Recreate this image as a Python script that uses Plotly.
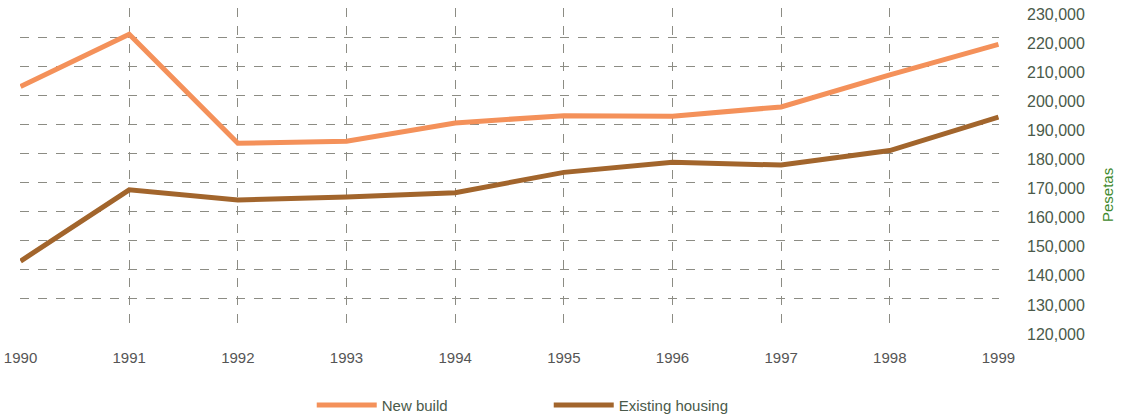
import plotly.graph_objects as go

years = [1990, 1991, 1992, 1993, 1994, 1995, 1996, 1997, 1998, 1999]
new_build = [203000, 221000, 183500, 184200, 190500, 193000, 192800, 196000, 207000, 217500]
existing_housing = [143000, 167500, 164000, 165000, 166500, 173500, 177000, 176000, 181000, 192500]

label_ticks = list(range(120000, 230001, 10000))

fig = go.Figure()
fig.add_trace(go.Scatter(x=years, y=new_build, name="New build", mode="lines",
                         line=dict(color="#f4915a", width=5)))
fig.add_trace(go.Scatter(x=years, y=existing_housing, name="Existing housing", mode="lines",
                         line=dict(color="#a2652c", width=5)))

fig.update_layout(
    width=1122, height=417,
    margin=dict(l=20, r=123, t=8, b=89, autoexpand=False),
    paper_bgcolor="white", plot_bgcolor="white",
    font=dict(family="Liberation Sans, Arial, sans-serif", size=15, color="#555555"),
    showlegend=True,
    legend=dict(orientation="h", x=0.298, xanchor="left", y=-0.19, yanchor="top",
                font=dict(size=15, color="#4a5a4a"), itemwidth=60,
                entrywidthmode="pixels", entrywidth=162),
    xaxis=dict(range=[1989.995, 1999.005], tickvals=years, showgrid=True, griddash="9px,9px",
               gridcolor="#8c8c84", gridwidth=1, zeroline=False, showline=False,
               ticks="", ticklabelstandoff=19, ticklabeloverflow="allow", automargin=False,
               tickfont=dict(color="#555555", size=15)),
    yaxis=dict(range=[120000, 230000], side="right", tickvals=label_ticks,
               tickformat=",d", showgrid=True, griddash="9px,9px",
               gridcolor="#8c8c84", gridwidth=1, zeroline=False, showline=False,
               ticks="", ticklabelstandoff=27, ticklabelshift=6, ticklabeloverflow="allow",
               automargin=False, tickfont=dict(color="#4a5a4a", size=16)),
    annotations=[dict(text="Pesetas", textangle=-90, xref="paper", yref="paper",
                      x=1, y=0.5, xanchor="center", yanchor="middle", xshift=108, yshift=-27,
                      showarrow=False, font=dict(color="#3f8a2e", size=15))],
)

# drop the page's default body margin so the figure sits at the window's corner
fig.write_html("out.html", config={"displayModeBar": False},
               post_script="document.body.style.margin = '0';")
